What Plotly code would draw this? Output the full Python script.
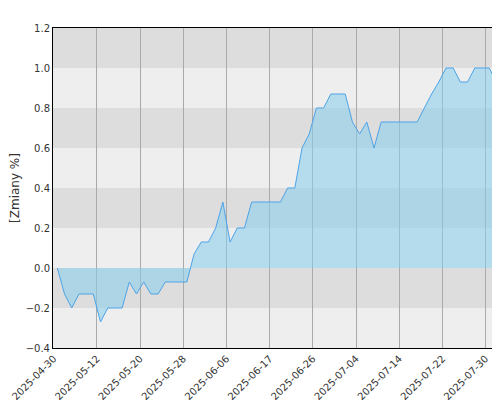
import plotly.graph_objects as go

# values per trading day (index 0..62)
values = [0, -0.13, -0.2, -0.13, -0.13, -0.13, -0.27, -0.2, -0.2, -0.2,
          -0.07, -0.13, -0.07, -0.13, -0.13, -0.07, -0.07, -0.07, -0.07, 0.07,
          0.13, 0.13, 0.2, 0.33, 0.13, 0.2, 0.2, 0.33, 0.33, 0.33,
          0.33, 0.33, 0.4, 0.4, 0.6, 0.67, 0.8, 0.8, 0.87, 0.87,
          0.87, 0.73, 0.67, 0.73, 0.6, 0.73, 0.73, 0.73, 0.73, 0.73,
          0.73, 0.8, 0.87, 0.93, 1.0, 1.0, 0.93, 0.93, 1.0, 1.0,
          1.0, 0.93, 1.13]
tick_labels = ["2025-04-30", "2025-05-12", "2025-05-20", "2025-05-28", "2025-06-06",
               "2025-06-17", "2025-06-26", "2025-07-04", "2025-07-14", "2025-07-22", "2025-07-30"]
tick_pos = [-0.5 + 6 * i for i in range(len(tick_labels))]
days = list(range(len(values)))

fig = go.Figure()

# alternating horizontal bands
for k in range(8):
    y0 = -0.4 + 0.2 * k
    fig.add_shape(type="rect", xref="paper", x0=0, x1=1, y0=y0, y1=y0 + 0.2,
                  fillcolor="#dddddd" if k % 2 == 1 else "#eeeeee",
                  line_width=0, layer="below")

fig.add_trace(go.Scatter(x=days, y=values, mode="lines", fill="tozeroy",
                         line=dict(color="#4da3e8", width=1),
                         fillcolor="rgba(135,206,235,0.55)"))

fig.update_layout(
    width=500, height=400, showlegend=False,
    margin=dict(l=45, r=3, t=20, b=60),
    paper_bgcolor="white", plot_bgcolor="white",
    font=dict(family="DejaVu Sans", size=10, color="#333"),
    xaxis=dict(range=[-0.6, 62.2], tickvals=tick_pos, ticktext=tick_labels,
               tickangle=-45, showgrid=True, gridcolor="#aaaaaa", zeroline=False,
               showline=True, linecolor="black", mirror=True, ticks="",
               automargin=False),
    yaxis=dict(range=[-0.4, 1.2], dtick=0.2, tickformat=".1f", showgrid=False,
               zeroline=False, showline=True, linecolor="black", mirror=True,
               automargin=False,
               title=dict(text="[Zmiany %]", standoff=3)),
)

fig.write_html("out.html")
